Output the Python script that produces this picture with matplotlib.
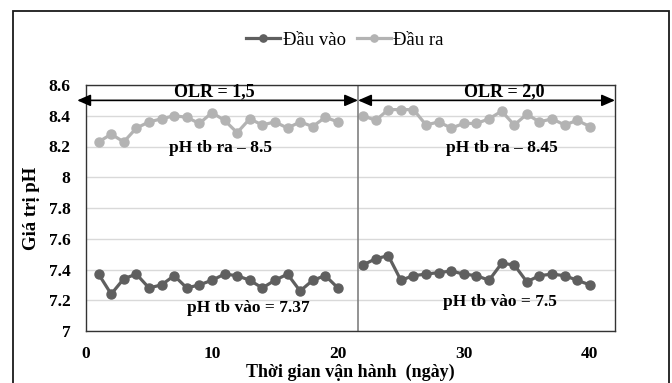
import matplotlib
matplotlib.use("Agg")
import matplotlib.pyplot as plt
from matplotlib.patches import Rectangle

plt.rcParams['font.family'] = ['Liberation Serif', 'DejaVu Serif']

# Data
days_1 = list(range(1, 21))
days_2 = list(range(22, 41))
outlet_1 = [8.23, 8.28, 8.23, 8.32, 8.36, 8.38, 8.40, 8.39, 8.35, 8.42,
            8.37, 8.29, 8.38, 8.34, 8.36, 8.32, 8.36, 8.33, 8.39, 8.36]
outlet_2 = [8.40, 8.37, 8.44, 8.44, 8.44, 8.34, 8.36, 8.32, 8.35, 8.35,
            8.38, 8.43, 8.34, 8.41, 8.36, 8.38, 8.34, 8.37, 8.33]
inlet_1 = [7.37, 7.24, 7.34, 7.37, 7.28, 7.30, 7.36, 7.28, 7.30, 7.33,
           7.37, 7.36, 7.33, 7.28, 7.33, 7.37, 7.26, 7.33, 7.36, 7.28]
inlet_2 = [7.43, 7.47, 7.49, 7.33, 7.36, 7.37, 7.38, 7.39, 7.37, 7.36,
           7.33, 7.44, 7.43, 7.32, 7.36, 7.37, 7.36, 7.33, 7.30]

series_names = ["Đầu vào", "Đầu ra"]
phase_labels = ["OLR = 1,5", "OLR = 2,0"]
mean_out_labels = ["pH tb ra – 8.5", "pH tb ra – 8.45"]
mean_in_labels = ["pH tb vào = 7.37", "pH tb vào = 7.5"]
yticks = [7, 7.2, 7.4, 7.6, 7.8, 8, 8.2, 8.4, 8.6]
ytick_labels = ["7", "7.2", "7.4", "7.6", "7.8", "8", "8.2", "8.4", "8.6"]
xticks = [0, 10, 20, 30, 40]
split_day = 21.6

c_in = "#5f5f5f"
c_out = "#b3b3b3"

fig = plt.figure(figsize=(6.72, 3.83), dpi=100)
ax = fig.add_axes([86/672, 1-331/383, (615-86)/672, (331-85)/383])

# outer frame
fig.patches.append(Rectangle((13/672, -0.2), (669-13)/672, 1.2 - 11/383,
                             transform=fig.transFigure, fill=False,
                             edgecolor="#1a1a1a", linewidth=1.3))

ax.set_xlim(0, 42)
ax.set_ylim(7, 8.6)
ax.set_yticks(yticks)
ax.set_yticklabels(ytick_labels)
ax.set_xticks(xticks)
ax.grid(axis='y', color="#d9d9d9", linewidth=1.0)
ax.set_axisbelow(True)
for s in ax.spines.values():
    s.set_color("#333333")
    s.set_linewidth(1.0)
ax.tick_params(length=0, labelsize=12.5, pad=11)
for lab in ax.get_xticklabels() + ax.get_yticklabels():
    lab.set_fontweight('bold')

lw = 2.3
ms = 6.5
ax.plot(days_1, inlet_1, '-o', color=c_in, lw=lw, ms=ms, label=series_names[0])
ax.plot(days_2, inlet_2, '-o', color=c_in, lw=lw, ms=ms)
ax.plot(days_1, outlet_1, '-o', color=c_out, lw=lw, ms=ms, label=series_names[1])
ax.plot(days_2, outlet_2, '-o', color=c_out, lw=lw, ms=ms)

ax.axvline(split_day, color="#808080", lw=1.2)

arrow_kw = dict(arrowstyle='<|-|>,head_length=0.8,head_width=0.35', color='black', lw=1.2,
                shrinkA=0, shrinkB=0)
ax.annotate('', xy=(-0.7, 8.5), xytext=(split_day, 8.5), arrowprops=arrow_kw,
            annotation_clip=False)
ax.annotate('', xy=(split_day, 8.5), xytext=(42, 8.5), arrowprops=arrow_kw,
            annotation_clip=False)

ax.text(10.2, 8.503, phase_labels[0], ha='center', va='bottom', fontsize=13, fontweight='bold')
ax.text(33.2, 8.503, phase_labels[1], ha='center', va='bottom', fontsize=13, fontweight='bold')
ax.text(10.7, 8.19, mean_out_labels[0], ha='center', va='center', fontsize=12.5, fontweight='bold')
ax.text(33.0, 8.19, mean_out_labels[1], ha='center', va='center', fontsize=12.5, fontweight='bold')
ax.text(12.9, 7.15, mean_in_labels[0], ha='center', va='center', fontsize=12.5, fontweight='bold')
ax.text(32.9, 7.19, mean_in_labels[1], ha='center', va='center', fontsize=12.5, fontweight='bold')

ax.set_xlabel("Thời gian vận hành  (ngày)", fontsize=13, fontweight='bold', labelpad=1)
ax.set_ylabel("Giá trị pH", fontsize=13.5, fontweight='bold', labelpad=6)

fig.legend(loc='center', bbox_to_anchor=(345/672, 1-40/383), ncol=2, frameon=False,
           fontsize=13.5, handlelength=1.8, handletextpad=0.15, columnspacing=0.6,
           markerscale=0.8)

fig.savefig("out.png", dpi=100)
